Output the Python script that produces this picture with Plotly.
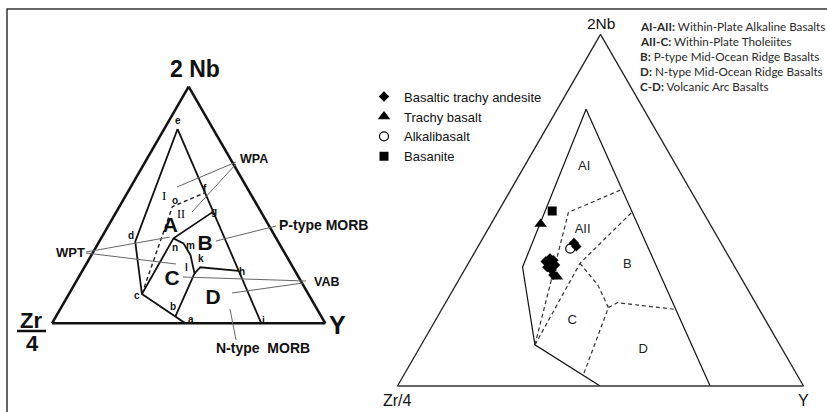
import plotly.graph_objects as go

W, H = 827, 412

# ---------------- Right panel: sample compositions (%, 2Nb / Zr/4 / Y) ----------------
bta_nb = [40.7, 39.7, 36.3, 35.8, 33.8, 33.0, 34.9, 31.6, 35.4, 34.4]
bta_zr = [36.2, 36.1, 44.3, 43.7, 46.2, 45.5, 45.4, 45.8, 45.8, 44.0]
bta_y = [23.1, 24.2, 19.4, 20.5, 20.0, 21.5, 19.7, 22.6, 18.8, 21.6]

tb_nb = [46.1, 31.1]
tb_zr = [41.7, 45.2]
tb_y = [12.2, 23.7]

ab_nb = [39.1]
ab_zr = [37.9]
ab_y = [23.0]

bs_nb = [49.8]
bs_zr = [37.0]
bs_y = [13.2]

# ---------------- Right panel field boundaries ----------------
R_outer = {"nb": [78.7, 33.8, 11.7, 0.0], "zr": [14.2, 52.3, 60.3, 50.1], "y": [7.1, 13.9, 28.0, 49.9]}  # e-d-c-a
R_ei = {"nb": [78.7, 0.0], "zr": [14.2, 23.0], "y": [7.1, 77.0]}                                       # e-i
R_cof = {"nb": [11.7, 49.4, 55.9], "zr": [60.3, 33.2, 16.8], "y": [28.0, 17.4, 27.3]}                   # c-o-f
R_cng = {"nb": [11.7, 34.9, 49.6], "zr": [60.3, 37.6, 17.3], "y": [28.0, 27.5, 33.1]}                   # c-n-g
R_nlb = {"nb": [34.9, 28.7, 22.3, 3.1], "zr": [37.6, 36.3, 36.9, 52.7], "y": [27.5, 35.0, 40.8, 44.2]}  # n-l-b
R_lkh = {"nb": [22.3, 23.7, 21.8], "zr": [36.9, 34.0, 20.8], "y": [40.8, 42.3, 57.4]}                   # l-k-h

R_field_names = ["AI", "AII", "B", "C", "D"]
R_field_nb = [62.4, 44.4, 34.4, 18.5, 10.4]
R_field_zr = [22.8, 32.2, 26.2, 47.7, 34.3]
R_field_y = [14.8, 23.4, 39.4, 33.8, 55.3]

# ---------------- Left panel (Meschede 1986 original) ----------------
L_outer = {"nb": [82.1, 34.5, 12.4, 0.0], "zr": [13.0, 52.3, 60.9, 51.2], "y": [4.9, 13.2, 26.7, 48.8]}
L_ei = {"nb": [82.1, 0.0], "zr": [13.0, 23.4], "y": [4.9, 76.6]}
L_cng = {"nb": [12.4, 35.9, 47.2], "zr": [60.9, 37.6, 17.4], "y": [26.7, 26.5, 35.4]}
L_nlb = {"nb": [35.9, 33.8, 28.9, 21.1, 2.9], "zr": [37.6, 35.0, 34.9, 37.3, 53.4], "y": [26.5, 31.2, 36.2, 41.6, 43.7]}
L_lkh = {"nb": [21.1, 23.7, 22.2], "zr": [37.3, 33.9, 20.6], "y": [41.6, 42.4, 57.2]}
L_cof = {"nb": [12.4, 49.3, 55.2], "zr": [60.9, 31.3, 16.4], "y": [26.7, 19.4, 28.4]}

L_field_names = ["A", "B", "C", "D"]
L_field_nb = [40.6, 33.1, 18.3, 10.6]
L_field_zr = [36.4, 27.4, 46.9, 35.8]
L_field_y = [23.0, 39.5, 34.8, 53.6]

FONT = "Liberation Sans, Arial, sans-serif"


def P(x, y):
    return x / W, 1 - y / H


fig = go.Figure()


def line(sub, d, width, color, dash="solid"):
    fig.add_trace(go.Scatterternary(
        subplot=sub, a=d["nb"], b=d["zr"], c=d["y"], mode="lines",
        line=dict(color=color, width=width, dash=dash),
        showlegend=False, hoverinfo="skip"))


# left panel field lines
for d in (L_outer, L_ei, L_cng, L_nlb, L_lkh):
    line("ternary", d, 1.8, "#111")
line("ternary", L_cof, 1.4, "#222", "4px,3px")

fig.add_trace(go.Scatterternary(
    subplot="ternary", a=L_field_nb, b=L_field_zr, c=L_field_y, mode="text",
    text=L_field_names, textfont=dict(family=FONT, size=21, color="#111"),
    texttemplate="<b>%{text}</b>", showlegend=False, hoverinfo="skip"))

# right panel field lines
for d in (R_outer, R_ei):
    line("ternary2", d, 1.2, "#111")
for d in (R_cof, R_cng, R_nlb, R_lkh):
    line("ternary2", d, 1.2, "#333", "4px,3px")

fig.add_trace(go.Scatterternary(
    subplot="ternary2", a=R_field_nb, b=R_field_zr, c=R_field_y, mode="text",
    text=R_field_names, textfont=dict(family=FONT, size=13, color="#222"),
    showlegend=False, hoverinfo="skip"))

# samples
fig.add_trace(go.Scatterternary(
    subplot="ternary2", a=bta_nb, b=bta_zr, c=bta_y, mode="markers",
    name="Basaltic trachy andesite",
    marker=dict(symbol="diamond", size=8, color="black")))
fig.add_trace(go.Scatterternary(
    subplot="ternary2", a=tb_nb, b=tb_zr, c=tb_y, mode="markers",
    name="Trachy basalt",
    marker=dict(symbol="triangle-up", size=11, color="black")))
fig.add_trace(go.Scatterternary(
    subplot="ternary2", a=ab_nb, b=ab_zr, c=ab_y, mode="markers",
    name="Alkalibasalt",
    marker=dict(symbol="circle-open", size=9, color="black", line=dict(width=1.2))))
fig.add_trace(go.Scatterternary(
    subplot="ternary2", a=bs_nb, b=bs_zr, c=bs_y, mode="markers",
    name="Basanite",
    marker=dict(symbol="square", size=9, color="black")))


def axis(lw, col):
    return dict(showticklabels=False, showgrid=False, ticks="", title=dict(text=""),
                linecolor=col, linewidth=lw, min=0)


# ---------------- annotations ----------------
ann = []


def txt(x, y, s, size, bold=False, color="#111", family=FONT, xanchor="center"):
    px, py = P(x, y)
    ann.append(dict(x=px, y=py, xref="paper", yref="paper", showarrow=False,
                    text=("<b>%s</b>" % s) if bold else s, xanchor=xanchor, yanchor="middle",
                    font=dict(family=family, size=size, color=color)))


# left panel labels
txt(195, 69, "2 Nb", 23, True)
txt(31, 320, "Zr", 22, True)
txt(32, 343, "4", 22, True)
txt(337, 325, "Y", 25, True)
for s, x, y in [("e", 177.7, 121), ("f", 205, 188), ("o", 175, 200), ("g", 214, 211),
                ("d", 130.5, 235), ("n", 175, 248), ("m", 190, 246), ("l", 186, 267),
                ("k", 201, 258), ("h", 242, 271), ("c", 136.5, 295.5), ("b", 173.3, 306),
                ("a", 191, 319), ("i", 263.5, 320)]:
    txt(x, y, s, 10, True)
txt(164.3, 195, "I", 13, False, color="#000", family="Liberation Serif, serif")
txt(181, 214, "II", 12, False, color="#000", family="Liberation Serif, serif")
txt(254, 159, "WPA", 12.5, True)
txt(323, 225, "P-type MORB", 14, True)
txt(70.5, 252.3, "WPT", 13, True)
txt(326, 282, "VAB", 12.5, True)
txt(263, 348, "N-type  MORB", 14, True)

# right panel corner labels
txt(600.5, 24, "2Nb", 15.5)
txt(397.5, 400.5, "Zr/4", 16)
txt(803, 400, "Y", 16)

# classification key
notes = [("AI-AII:", " Within-Plate Alkaline Basalts"),
         ("AII-C:", " Within-Plate Tholeiites"),
         ("B:", " P-type Mid-Ocean Ridge Basalts"),
         ("D:", " N-type Mid-Ocean Ridge Basalts"),
         ("C-D:", " Volcanic Arc Basalts")]
for k, (b, rest) in enumerate(notes):
    px, py = P(638, 25.7 + 15.1 * k)
    ann.append(dict(x=px, y=py, xref="paper", yref="paper", showarrow=False,
                    xanchor="left", yanchor="middle",
                    text="<b>%s</b>%s" % (b, rest),
                    font=dict(family="Lato", size=11.7, color="#2a2a2a")))

# ---------------- shapes: frame, fraction bar, leader lines ----------------
shapes = []


def seg(x0, y0, x1, y1, w=1, col="#555"):
    a0, b0 = P(x0, y0)
    a1, b1 = P(x1, y1)
    shapes.append(dict(type="line", xref="paper", yref="paper", x0=a0, y0=b0, x1=a1, y1=b1,
                       line=dict(color=col, width=w)))


fx0, fy0 = P(7, 9)
shapes.append(dict(type="rect", xref="paper", yref="paper", x0=fx0, y0=fy0, x1=1.3, y1=-0.3,
                   line=dict(color="#333", width=1.5)))
seg(17, 331, 46, 331, 2.5, "#111")
for x0, y0, x1, y1 in [(236, 162, 177, 187), (236, 164, 192, 212), (276, 226, 216, 241),
                       (86, 252, 170, 237), (86, 253, 176, 264), (306, 281, 183, 277),
                       (303, 283, 232, 293), (236, 340, 230, 309)]:
    seg(x0, y0, x1, y1, 1, "#666")

fig.update_layout(
    width=W, height=H, margin=dict(l=0, r=0, t=0, b=0, pad=0),
    paper_bgcolor="white", plot_bgcolor="white",
    ternary=dict(domain=dict(x=[52 / W, 325.3 / W], y=[1 - 205 / H - 0.3, 1 - 205 / H + 0.3]),
                 bgcolor="white", sum=100,
                 aaxis=axis(2.5, "#111"), baxis=axis(2.5, "#111"), caxis=axis(2.5, "#111")),
    ternary2=dict(domain=dict(x=[397.5 / W, 803.5 / W], y=[1 - 210.2 / H - 0.44, 1 - 210.2 / H + 0.44]),
                  bgcolor="white", sum=100,
                  aaxis=axis(1.3, "#222"), baxis=axis(1.6, "#333"), caxis=axis(1.3, "#222")),
    showlegend=True,
    legend=dict(x=364 / W, y=1 - 81.6 / H, xanchor="left", yanchor="top",
                bgcolor="rgba(0,0,0,0)", font=dict(family=FONT, size=13, color="#111"),
                itemwidth=30, tracegroupgap=0),
    annotations=ann, shapes=shapes,
)

fig.write_html("out.html")
